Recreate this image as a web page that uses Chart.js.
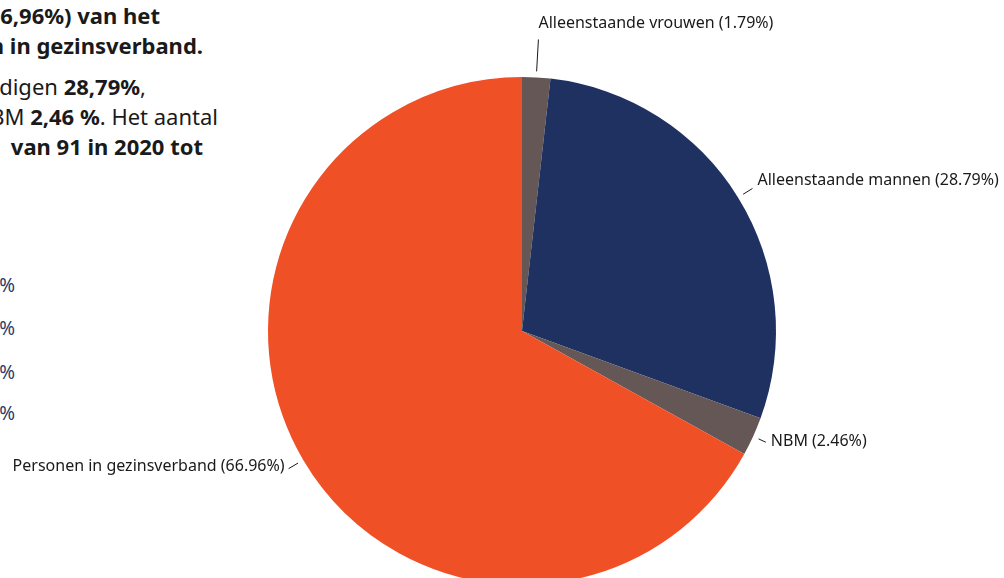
<!DOCTYPE html>
<html>
<head>
<meta charset="utf-8">
<script src="https://cdn.jsdelivr.net/npm/chart.js@4"></script>
<style>
  html, body { margin: 0; padding: 0; background: #fff; }
  body { width: 1004px; height: 578px; overflow: hidden; position: relative; font-family: "Noto Sans", sans-serif; }
  .txt { position: absolute; white-space: nowrap; text-align: right; font-size: 22px; color: #1a1a1a; line-height: 24px; }
  .txt b { font-weight: 700; }
  .pct { position: absolute; white-space: nowrap; text-align: right; font-size: 19px; color: #2b3a68; line-height: 22px; }
  #wrap { position: absolute; left: 0; top: 0; width: 1004px; height: 680px; }
</style>
</head>
<body>
<!-- tekst links, afgesneden -->
<div class="txt" style="right:844px; top:3px;"><b>deel (66,96%) van het</b></div>
<div class="txt" style="right:801px; top:33px;"><b>bestaat uit personen in gezinsverband.</b></div>
<div class="txt" style="right:858px; top:74px;">Alleenstaande mannen vertegenwoordigen <b>28,79%</b>,</div>
<div class="txt" style="right:786px; top:104px;">vrouwen 1,79% en NBM <b>2,46 %</b>. Het aantal</div>
<div class="txt" style="right:801px; top:134px;"><b>steeg&nbsp;&nbsp; van 91 in 2020 tot</b></div>

<div class="pct" style="right:989px; top:274px;">66,96%</div>
<div class="pct" style="right:989px; top:317px;">28,79%</div>
<div class="pct" style="right:989px; top:361px;">2,46%</div>
<div class="pct" style="right:989px; top:402px;">1,79%</div>

<div id="wrap"><canvas id="myChart"></canvas></div>
<script>
// data
const categories = ["Alleenstaande vrouwen", "Alleenstaande mannen", "NBM", "Personen in gezinsverband"];
const values = [1.79, 28.79, 2.46, 66.96];
const colors = ['#665757', '#1f3161', '#665757', '#f05025'];

// leader line per slice
const leaderLen = [32, 11, 8, 11];
const labelDy = [0, -8, -1, -2];

const outsideLabels = {
    id: 'outsideLabels',
    afterDatasetsDraw(chart) {
        const ctx = chart.ctx;
        const meta = chart.getDatasetMeta(0);
        ctx.save();
        ctx.font = '16px "Noto Sans", sans-serif';
        ctx.fillStyle = '#1a1a1a';
        ctx.strokeStyle = '#1a1a1a';
        ctx.lineWidth = 1;
        meta.data.forEach(function (arc, i) {
            const mid = (arc.startAngle + arc.endAngle) / 2;
            const cx = Math.cos(mid), cy = Math.sin(mid);
            const r1 = arc.outerRadius + 6;
            const r2 = r1 + leaderLen[i];
            const x1 = arc.x + cx * r1, y1 = arc.y + cy * r1;
            const x2 = arc.x + cx * r2, y2 = arc.y + cy * r2;
            ctx.beginPath();
            ctx.moveTo(x1, y1);
            ctx.lineTo(x2, y2);
            ctx.stroke();
            const text = categories[i] + ' (' + values[i].toFixed(2) + '%)';
            ctx.textBaseline = 'middle';
            if (Math.abs(cx) < 0.15 && cy < 0) {
                ctx.textAlign = 'left';
                ctx.fillText(text, x2 + 0, y2 - 16);
            } else if (cx >= 0) {
                ctx.textAlign = 'left';
                ctx.fillText(text, x2 + 5, y2 + labelDy[i]);
            } else {
                ctx.textAlign = 'right';
                ctx.fillText(text, x2 - 4, y2 + labelDy[i]);
            }
        });
        ctx.restore();
    }
};

window.onload = (function () {
    new Chart(document.getElementById('myChart'), {
        type: 'pie',
        data: {
            labels: categories,
            datasets: [{
                data: values,
                backgroundColor: colors,
                borderWidth: 0
            }]
        },
        options: {
            responsive: true,
            maintainAspectRatio: false,
            animation: false,
            layout: { padding: { left: 268, right: 228, top: 77, bottom: 95 } },
            plugins: {
                legend: { display: false },
                tooltip: { enabled: false }
            }
        },
        plugins: [outsideLabels]
    });
});
</script>
</body>
</html>
